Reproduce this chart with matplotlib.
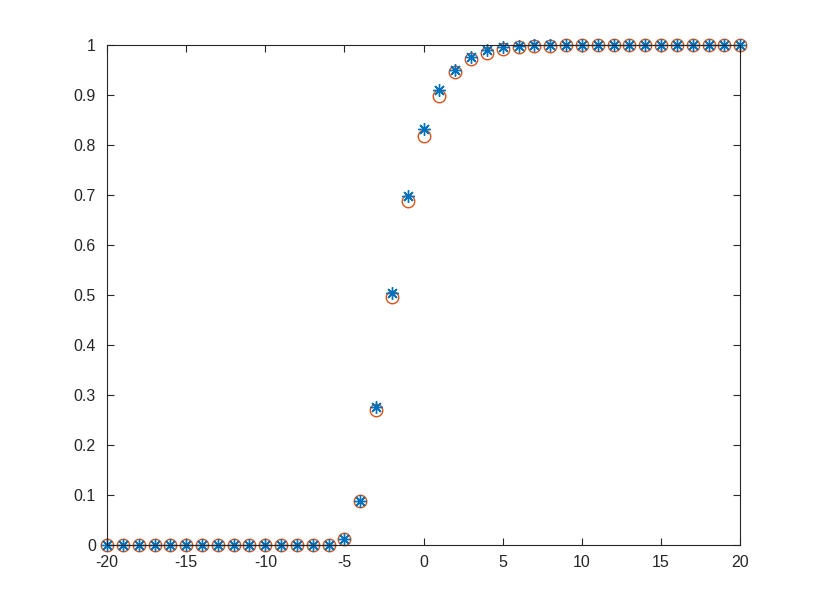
import numpy as np
import matplotlib.pyplot as plt
from matplotlib.ticker import FormatStrFormatter

x = list(range(-20, 21))
# blue stars
y_star = [0, 0, 0, 0, 0, 0, 0, 0, 0, 0, 0, 0, 0, 0, 0, 0.011, 0.087, 0.275, 0.503, 0.698,
          0.831, 0.909, 0.950, 0.975, 0.989, 0.995, 0.997, 0.999, 0.999, 1, 1,
          1, 1, 1, 1, 1, 1, 1, 1, 1, 1]
# orange circles
y_circ = [0, 0, 0, 0, 0, 0, 0, 0, 0, 0, 0, 0, 0, 0, 0, 0.011, 0.087, 0.270, 0.495, 0.687,
          0.818, 0.898, 0.945, 0.971, 0.984, 0.991, 0.995, 0.997, 0.998, 0.999, 0.999,
          1, 1, 1, 1, 1, 1, 1, 1, 1, 1]

plt.rcParams['font.family'] = ['Liberation Sans', 'DejaVu Sans']
plt.rcParams['axes.unicode_minus'] = False

fig = plt.figure(figsize=(8.17, 6.13), dpi=100)
ax = fig.add_axes([0.131, 0.111, 0.775, 0.816])

ax.plot(x, y_circ, 'o', color='#D95319', markerfacecolor='none', markersize=9, markeredgewidth=1.0,
        clip_on=False)
ax.plot(x, y_star, marker=(8, 2, 0), linestyle='none', color='#0072BD', markersize=9,
        markeredgewidth=1.0, clip_on=False)

ax.set_xlim(-20, 20)
ax.set_ylim(0, 1)
ax.set_xticks(range(-20, 21, 5))
ax.set_yticks(np.arange(0, 1.01, 0.1))
ax.yaxis.set_major_formatter(FormatStrFormatter('%g'))
ax.tick_params(direction='in', top=True, right=True, labelsize=11.5, colors='#262626', length=5)
ax.tick_params(axis='x', pad=7)
ax.tick_params(axis='y', pad=8)
for s in ax.spines.values():
    s.set_color('#262626')
    s.set_linewidth(0.8)

fig.savefig('out.png', dpi=100)
